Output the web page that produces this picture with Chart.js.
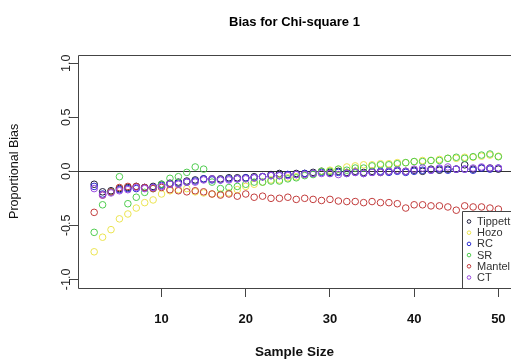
<!DOCTYPE html>
<html>
<head>
<meta charset="utf-8">
<title>Bias for Chi-square 1</title>
<script src="https://cdn.jsdelivr.net/npm/chart.js@4.4.0/dist/chart.umd.min.js"></script>
<style>
html, body { margin: 0; padding: 0; background: #fff; overflow: hidden; }
#wrap { width: 511px; height: 364px; }
</style>
</head>
<body>
<div id="wrap"><canvas id="biasChart" width="511" height="364"></canvas></div>
<script>
// sample sizes on the x axis
const sampleSizes = [2, 3, 4, 5, 6, 7, 8, 9, 10, 11, 12, 13, 14, 15, 16, 17, 18, 19, 20, 21, 22, 23, 24, 25, 26,
    27, 28, 29, 30, 31, 32, 33, 34, 35, 36, 37, 38, 39, 40, 41, 42, 43, 44, 45, 46, 47, 48, 49, 50];

// proportional bias per method
const tippett = [-0.12, -0.19, -0.18, -0.16, -0.15, -0.14, -0.15, -0.14, -0.12, -0.11, -0.10, -0.09, -0.08, -0.07,
    -0.07, -0.07, -0.06, -0.06, -0.06, -0.05, -0.05, -0.03, -0.02, -0.03, -0.02, -0.02, -0.01, 0.00, -0.01, 0.00,
    -0.01, 0.00, -0.01, 0.00, -0.01, 0.00, 0.01, 0.00, 0.01, 0.00, 0.02, 0.01, 0.02, 0.02, 0.06, 0.02, 0.03, 0.03, 0.02];
const hozo = [-0.745, -0.61, -0.54, -0.44, -0.395, -0.34, -0.29, -0.265, -0.21, -0.18, -0.17, -0.16, -0.19, -0.20,
    -0.21, -0.21, -0.20, -0.17, -0.14, -0.12, -0.10, -0.08, -0.08, -0.06, -0.05, -0.03, -0.02, 0.00, 0.01, 0.02,
    0.04, 0.05, 0.06, 0.06, 0.07, 0.07, 0.08, 0.08, 0.09, 0.10, 0.10, 0.11, 0.12, 0.12, 0.13, 0.13, 0.14, 0.15, 0.14];
const rc = [-0.14, -0.21, -0.19, -0.17, -0.16, -0.16, -0.15, -0.15, -0.13, -0.12, -0.11, -0.10, -0.09, -0.07,
    -0.08, -0.08, -0.07, -0.07, -0.06, -0.06, -0.05, -0.04, -0.04, -0.03, -0.03, -0.02, -0.02, -0.01, -0.02, -0.01,
    -0.02, -0.01, -0.02, -0.01, 0.00, -0.01, 0.00, -0.01, 0.00, 0.01, 0.01, 0.02, 0.01, 0.02, 0.02, 0.01, 0.03, 0.02, 0.03];
const sr = [-0.565, -0.31, -0.19, -0.05, -0.30, -0.24, -0.195, -0.16, -0.12, -0.065, -0.05, -0.01, 0.04, 0.02,
    -0.10, -0.16, -0.15, -0.14, -0.12, -0.10, -0.10, -0.09, -0.09, -0.07, -0.06, -0.04, -0.03, 0.00, 0.00, 0.02,
    0.01, 0.03, 0.03, 0.05, 0.06, 0.06, 0.07, 0.08, 0.09, 0.09, 0.10, 0.10, 0.12, 0.13, 0.12, 0.135, 0.15, 0.16, 0.135];
const mantel = [-0.38, -0.22, -0.19, -0.15, -0.14, -0.14, -0.15, -0.16, -0.15, -0.17, -0.18, -0.19, -0.18, -0.19,
    -0.21, -0.22, -0.21, -0.23, -0.21, -0.24, -0.23, -0.25, -0.25, -0.24, -0.26, -0.25, -0.26, -0.27, -0.26, -0.275,
    -0.28, -0.28, -0.29, -0.28, -0.29, -0.29, -0.30, -0.34, -0.31, -0.31, -0.32, -0.32, -0.33, -0.36, -0.32, -0.33,
    -0.33, -0.34, -0.35];
const ct = [-0.16, -0.22, -0.20, -0.18, -0.17, -0.15, -0.16, -0.15, -0.14, -0.12, -0.12, -0.10, -0.10, -0.08,
    -0.07, -0.08, -0.08, -0.07, -0.07, -0.06, -0.05, -0.04, -0.04, -0.04, -0.03, -0.03, -0.02, -0.02, -0.02, -0.03,
    -0.02, -0.01, -0.02, -0.01, -0.01, 0.00, 0.01, 0.00, 0.02, 0.03, 0.01, 0.03, 0.04, 0.02, 0.02, 0.03, 0.04, 0.03, 0.03];

const seriesNames = ['Tippett', 'Hozo', 'RC', 'SR', 'Mantel', 'CT'];
const seriesValues = [tippett, hozo, rc, sr, mantel, ct];
const seriesColors = ['#1c1c3a', '#ebe450', '#2b2bd0', '#4fcc4f', '#c23c3c', '#9a4ae0'];

const xTickValues = [10, 20, 30, 40, 50];
const yTickValues = [-1.0, -0.5, 0.0, 0.5, 1.0];

const FONT = 'Liberation Sans, Arial, sans-serif';

// plot frame (open on the right, as the plot runs off the canvas) plus the y = 0 reference line
const framePlugin = {
    id: 'frame',
    beforeDatasetsDraw(chart) {
        const { ctx, chartArea, scales } = chart;
        const yZero = scales.y.getPixelForValue(0);
        ctx.save();
        ctx.strokeStyle = '#444';
        ctx.lineWidth = 1;
        ctx.beginPath();
        ctx.moveTo(chart.width, Math.round(chartArea.top) + 0.5);
        ctx.lineTo(Math.round(chartArea.left) + 0.5, Math.round(chartArea.top) + 0.5);
        ctx.lineTo(Math.round(chartArea.left) + 0.5, Math.round(chartArea.bottom) + 0.5);
        ctx.lineTo(chart.width, Math.round(chartArea.bottom) + 0.5);
        ctx.stroke();

        ctx.strokeStyle = '#333';
        ctx.beginPath();
        ctx.moveTo(chartArea.left, Math.round(yZero) + 0.5);
        ctx.lineTo(chart.width, Math.round(yZero) + 0.5);
        ctx.stroke();
        ctx.restore();
    }
};

// boxed legend in the lower right corner of the plot
const cornerLegend = {
    id: 'cornerLegend',
    afterDatasetsDraw(chart) {
        const { ctx, chartArea } = chart;
        const left = 462;
        const top = 211;
        const rowHeight = 11.2;
        ctx.save();
        ctx.fillStyle = '#fff';
        ctx.fillRect(left, top, chart.width - left, chartArea.bottom - top);
        ctx.strokeStyle = '#444';
        ctx.lineWidth = 1;
        ctx.beginPath();
        ctx.moveTo(chart.width, top + 0.5);
        ctx.lineTo(left + 0.5, top + 0.5);
        ctx.lineTo(left + 0.5, chartArea.bottom);
        ctx.stroke();

        ctx.font = '11px ' + FONT;
        ctx.textBaseline = 'middle';
        ctx.textAlign = 'left';
        chart.data.datasets.forEach((ds, i) => {
            const y = top + 10.5 + i * rowHeight;
            ctx.strokeStyle = ds.borderColor;
            ctx.beginPath();
            ctx.arc(469, y, 1.8, 0, Math.PI * 2);
            ctx.stroke();
            ctx.fillStyle = '#333';
            ctx.fillText(ds.label, 477, y + 0.5);
        });
        ctx.restore();
    }
};

const datasets = seriesNames.map((name, i) => ({
    label: name,
    data: sampleSizes.map((n, j) => ({ x: n, y: seriesValues[i][j] })),
    borderColor: seriesColors[i],
    backgroundColor: 'rgba(0,0,0,0)',
    pointRadius: 3.3,
    pointBorderWidth: 1,
    showLine: false,
    order: seriesNames.length - i
}));

// keep the axes from reserving extra room for overhanging tick labels
function noLabelPadding(scale) {
    scale.paddingLeft = 0;
    scale.paddingRight = 0;
    scale.paddingTop = 0;
    scale.paddingBottom = 0;
}

const ctx = document.getElementById('biasChart').getContext('2d');
const biasChart = new Chart(ctx, {
    type: 'scatter',
    data: { datasets: datasets },
    options: {
        responsive: false,
        animation: false,
        layout: { padding: 0, autoPadding: false },
        plugins: {
            legend: { display: false },
            tooltip: { enabled: false },
            title: {
                display: true,
                fullSize: false,
                text: 'Bias for Chi-square 1',
                color: '#000',
                font: { family: FONT, size: 13, weight: 'bold' },
                padding: { top: 15, bottom: 24 }
            }
        },
        scales: {
            x: {
                type: 'linear',
                min: 0.08,
                max: 51.5,
                afterBuildTicks: scale => { scale.ticks = xTickValues.map(v => ({ value: v })); },
                afterFit: scale => { scale.height = 76; noLabelPadding(scale); },
                grid: { drawOnChartArea: false, drawTicks: true, tickLength: 9, tickColor: '#444' },
                border: { display: false },
                ticks: {
                    color: '#111',
                    padding: 15,
                    maxRotation: 0,
                    font: { family: FONT, size: 13, weight: 'bold' }
                },
                title: {
                    display: true,
                    text: 'Sample Size',
                    color: '#111',
                    font: { family: FONT, size: 13.5, weight: 'bold' },
                    padding: { top: 0, bottom: 4 }
                }
            },
            y: {
                type: 'linear',
                min: -1.08,
                max: 1.08,
                afterBuildTicks: scale => { scale.ticks = yTickValues.map(v => ({ value: v })); },
                afterFit: scale => { scale.width = 78; noLabelPadding(scale); },
                grid: { drawOnChartArea: false, drawTicks: true, tickLength: 9, tickColor: '#444' },
                border: { display: false },
                ticks: {
                    color: '#222',
                    padding: -8,
                    minRotation: 90,
                    maxRotation: 90,
                    crossAlign: 'center',
                    font: { family: FONT, size: 12.5 },
                    callback: v => v.toFixed(1)
                },
                title: {
                    display: true,
                    text: 'Proportional Bias',
                    color: '#111',
                    font: { family: FONT, size: 12.5 },
                    padding: { top: 7, bottom: 0 }
                }
            }
        }
    },
    plugins: [framePlugin, cornerLegend]
});
</script>
</body>
</html>
